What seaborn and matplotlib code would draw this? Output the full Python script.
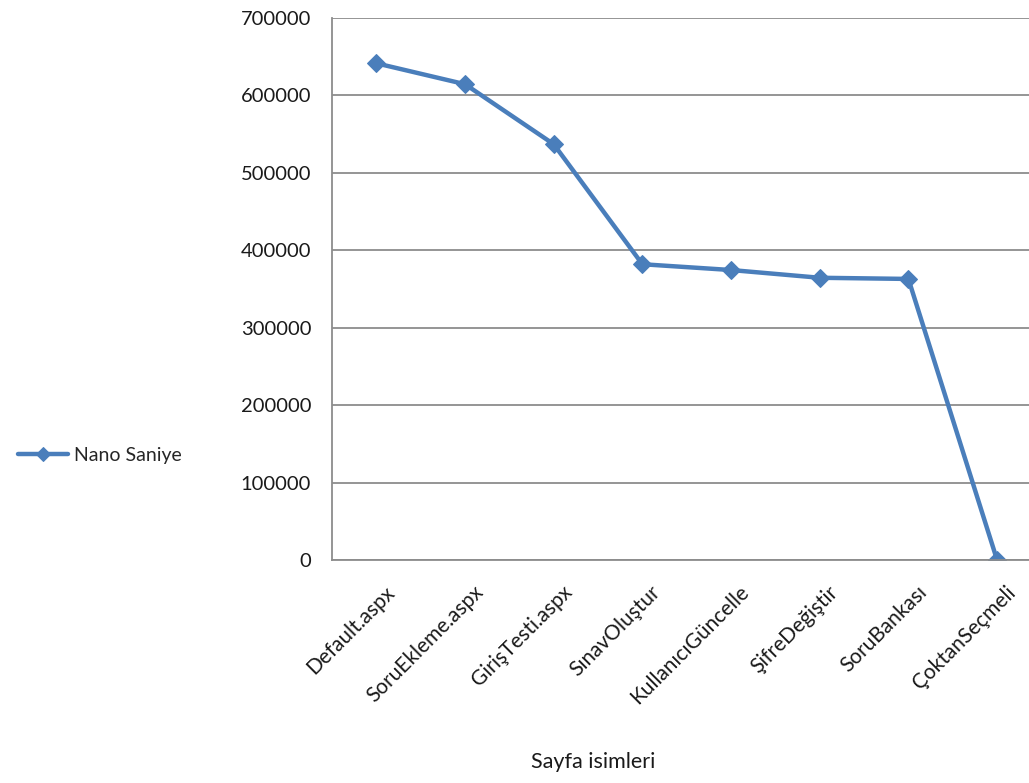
import pandas as pd
import matplotlib.pyplot as plt
import matplotlib.transforms as mtransforms
import seaborn as sns
from matplotlib.ticker import FixedLocator

sayfalar = ["Default.aspx", "SoruEkleme.aspx", "GirişTesti.aspx", "SınavOluştur",
            "KullanıcıGüncelle", "ŞifreDeğiştir", "SoruBankası", "ÇoktanSeçmeli"]
nano_saniye = [641500, 614500, 537000, 382000, 374500, 364500, 363000, 0]
y_ticks = [0, 100000, 200000, 300000, 400000, 500000, 600000, 700000]

df = pd.DataFrame({"Sayfa": sayfalar, "Nano Saniye": nano_saniye})

sns.set_style("white")
plt.rcParams['font.family'] = ['Lato', 'DejaVu Sans']

fig = plt.figure(figsize=(10.29, 7.83), dpi=100)
ax = fig.add_axes([332 / 1029, 1 - 560 / 783, (1029 - 332) / 1029, 542 / 783])

line_col = "#4A7EBB"
grid_col = "#8C8C8C"

sns.lineplot(data=df, x="Sayfa", y="Nano Saniye", sort=False, ax=ax,
             color=line_col, linewidth=3.2, marker="D", markersize=9,
             markeredgecolor=line_col, label="Nano Saniye", legend=False)

ax.set_ylim(0, 700000)
ax.set_xlim(-0.5, 7.36)
ax.set_yticks(y_ticks)
ax.set_yticklabels([str(v) for v in y_ticks], fontsize=14.5, color="#1a1a1a")
ax.yaxis.grid(True, color=grid_col, linewidth=1.3)
ax.set_axisbelow(True)

# category ticks sit between labels, Excel-style
ax.xaxis.set_minor_locator(FixedLocator([i - 0.5 for i in range(len(sayfalar) + 1)]))
ax.tick_params(axis="x", which="major", length=0, pad=16)
ax.tick_params(axis="x", which="minor", length=7, width=1.3, color=grid_col, direction="out")
ax.tick_params(axis="y", length=7, width=1.3, color=grid_col, direction="out", pad=8)
ax.set_xticks(range(len(sayfalar)))
ax.set_xticklabels(sayfalar, rotation=45, ha="right", rotation_mode="anchor",
                   fontsize=15, color="#1a1a1a")
shift = mtransforms.ScaledTranslation(0.08, 0.0, fig.dpi_scale_trans)
for lbl in ax.get_xticklabels():
    lbl.set_transform(lbl.get_transform() + shift)

for side in ["top", "right"]:
    ax.spines[side].set_visible(False)
for side in ["left", "bottom"]:
    ax.spines[side].set_color(grid_col)
    ax.spines[side].set_linewidth(1.3)

ax.set_ylabel("")
ax.set_xlabel("Sayfa isimleri", fontsize=15.5, color="#1a1a1a")
ax.xaxis.set_label_coords((593 - 332) / (1029 - 332), -(752 - 560) / 542)

handles, labels = ax.get_legend_handles_labels()
fig.legend(handles, labels, loc="center left", bbox_to_anchor=(0.0, 1 - 455 / 783),
           frameon=False, fontsize=14, handlelength=2.6, handletextpad=0.3,
           markerscale=0.8)

fig.savefig("out.png", dpi=100)
